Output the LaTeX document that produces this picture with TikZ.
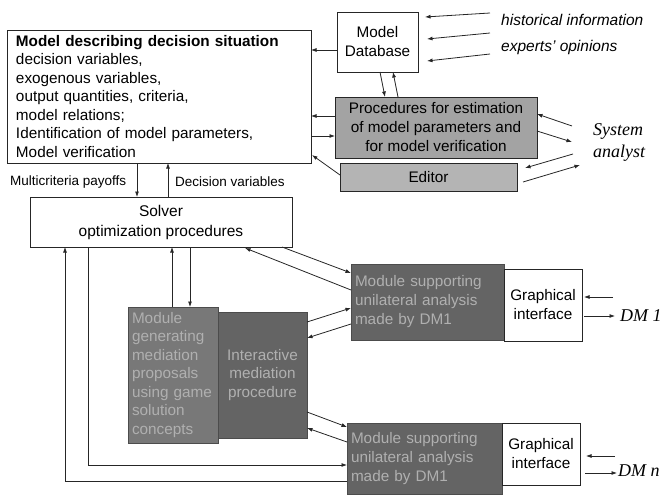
\documentclass[tikz,border=0pt]{standalone}
\usepackage{fontspec}
\setmainfont{Liberation Sans}
\newfontfamily\serifit{Liberation Serif}
\usetikzlibrary{arrows.meta}
\definecolor{procgray}{HTML}{A3A3A3}
\definecolor{editgray}{HTML}{B4B4B4}
\definecolor{darkA}{HTML}{787878}
\definecolor{darkB}{HTML}{646464}
\definecolor{darktext}{HTML}{B0B0B0}
\tikzset{
  box/.style={draw=black!85, line width=0.8pt, inner sep=0pt, outer sep=0pt, anchor=north west, font=\fontsize{15.3}{19}\selectfont},
  procbox/.style={box, fill=procgray},
  editbox/.style={box, fill=editgray},
  darkbox/.style={box, fill=darkA, text=darktext, draw=black!70},
  darkboxb/.style={box, fill=darkB, text=darktext, draw=black!70},
  conn/.style={line width=0.8pt, draw=black!85},
  arr/.style={conn, -{Latex[length=5.5pt,width=4pt]}},
  lbl/.style={inner sep=0pt, font=\fontsize{13.5}{16}\selectfont},
  srcit/.style={inner sep=0pt, anchor=west, font=\fontsize{15.5}{18}\selectfont\itshape},
  actor/.style={inner sep=0pt, anchor=west, font=\serifit\fontsize{18}{22}\selectfont\itshape},
}
\begin{document}
\begin{tikzpicture}[x=1pt,y=-1pt]
\useasboundingbox (0,0) rectangle (662,495);

% boxes
\node[box, minimum width=304pt, minimum height=133pt, text width=286pt, align=left, font=\fontsize{15.3}{18.5}\selectfont] (model) at (7,30)
 {\textbf{Model describing decision situation}\\
  decision variables,\\
  exogenous variables,\\
  output quantities, criteria,\\
  model relations;\\
  Identification of model parameters,\\
  Model verification};
\node[box, minimum width=81pt, minimum height=60pt, align=center] (db) at (337,12) {Model\\Database};
\node[procbox, minimum width=202pt, minimum height=61pt, align=center] (proc) at (335,97)
 {Procedures for estimation\\of model parameters and\\for model verification};
\node[editbox, minimum width=177pt, minimum height=28pt] (editor) at (340,163) {Editor};
\node[box, minimum width=262pt, minimum height=50pt, align=center, font=\fontsize{15.5}{20}\selectfont] (solver) at (30,197) {Solver\\optimization procedures};
\node[darkbox, minimum width=90pt, minimum height=136pt, text width=82pt, align=left, font=\fontsize{15.3}{18.5}\selectfont] (medgen) at (128,307)
 {Module\\generating\\mediation\\proposals\\using game\\solution\\concepts};
\node[darkboxb, minimum width=89pt, minimum height=126pt, align=center, font=\fontsize{15.3}{18.5}\selectfont] (medint) at (218,312)
 {Interactive\\mediation\\procedure};
\node[darkboxb, minimum width=153pt, minimum height=76pt, text width=145pt, align=left] (mod1) at (351,264)
 {Module supporting\\unilateral analysis\\made by DM1};
\node[box, minimum width=78pt, minimum height=72pt, align=center] (gi1) at (504,269) {Graphical\\interface};
\node[darkboxb, minimum width=155pt, minimum height=71pt, text width=147pt, align=left] (modn) at (347,423)
 {Module supporting\\unilateral analysis\\made by DM1};
\node[box, minimum width=78pt, minimum height=62pt, align=center] (gin) at (502,423) {Graphical\\interface};

% texts
\node[srcit] (hist) at (501,20) {historical information};
\node[srcit] (exp) at (501,47) {experts' opinions};
\node[actor] (sys) at (593,131) {System};
\node[actor] (ana) at (593,153) {analyst};
\node[actor] (dm1) at (620,316) {DM 1};
\node[actor] (dmn) at (618,471) {DM \textit{n}};
\node[lbl, anchor=west] (mcp) at (10,182) {Multicriteria payoffs};
\node[lbl, anchor=west] (dv) at (175,182) {Decision variables};

% coordinates for free ends
\coordinate (h1) at (490,13);
\coordinate (h2) at (490,33);
\coordinate (h3) at (490,54);
\coordinate (s1) at (572,126);
\coordinate (s2) at (572,142);
\coordinate (s3) at (573,154);
\coordinate (s4) at (580,165);
\coordinate (d1a) at (613,297);
\coordinate (d1b) at (615,316);
\coordinate (dna) at (615,456);
\coordinate (dnb) at (617,473);

% inputs to database
\draw[arr] (h1) -- (425,17);
\draw[arr] (h2) -- (427,39);
\draw[arr] (h3) -- (427,61);

% database <-> model
\draw[arr] (db.west |- 0,50) -- (model.east |- 0,50);
% database <-> procedures
\draw[arr] (db.south -| 380,0) -- (proc.north -| 385,0);
\draw[arr] (proc.north -| 398,0) -- (db.south -| 393,0);
% procedures <-> model
\draw[arr] (proc.west |- 0,116) -- (model.east |- 0,116);
\draw[arr] (model.east |- 0,136) -- (proc.west |- 0,136);
% editor -> model
\draw[arr] (editor.west |- 0,175) -- (312,155);
% system analyst
\draw[arr] (s1) -- (proc.east |- 0,114);
\draw[arr] (proc.east |- 0,131) -- (s2);
\draw[arr] (s3) -- (525,168);
\draw[arr] (523,182) -- (s4);

% model <-> solver
\draw[arr] (model.south -| 137,0) -- (solver.north -| 137,0);
\draw[arr] (solver.north -| 168,0) -- (model.south -| 168,0);

% solver <-> mediation
\draw[arr] (medgen.north -| 172,0) -- (solver.south -| 172,0);
\draw[arr] (solver.south -| 190,0) -- (medgen.north -| 190,0);

% solver <-> module DM1
\draw[arr] (282,247) -- (mod1.west |- 0,273);
\draw[arr] (mod1.west |- 0,290) -- (245,248);

% mediation <-> module DM1
\draw[arr] (medint.east |- 0,322) -- (mod1.west |- 0,308);
\draw[arr] (mod1.west |- 0,324) -- (medint.east |- 0,338);

% mediation <-> module DMn
\draw[arr] (medint.east |- 0,412) -- (modn.west |- 0,427);
\draw[arr] (modn.west |- 0,442) -- (medint.east |- 0,428);

% solver loops to module DMn
\draw[arr] (solver.south -| 88,0) -- (88,465) -- (modn.west |- 0,465);
\draw[arr] (modn.west |- 0,481) -- (65,481) -- (solver.south -| 65,0);

% decision makers
\draw[arr] (d1a) -- (584,297);
\draw[arr] (584,316) -- (d1b);
\draw[arr] (dna) -- (586,456);
\draw[arr] (585,473) -- (dnb);
\end{tikzpicture}
\end{document}
